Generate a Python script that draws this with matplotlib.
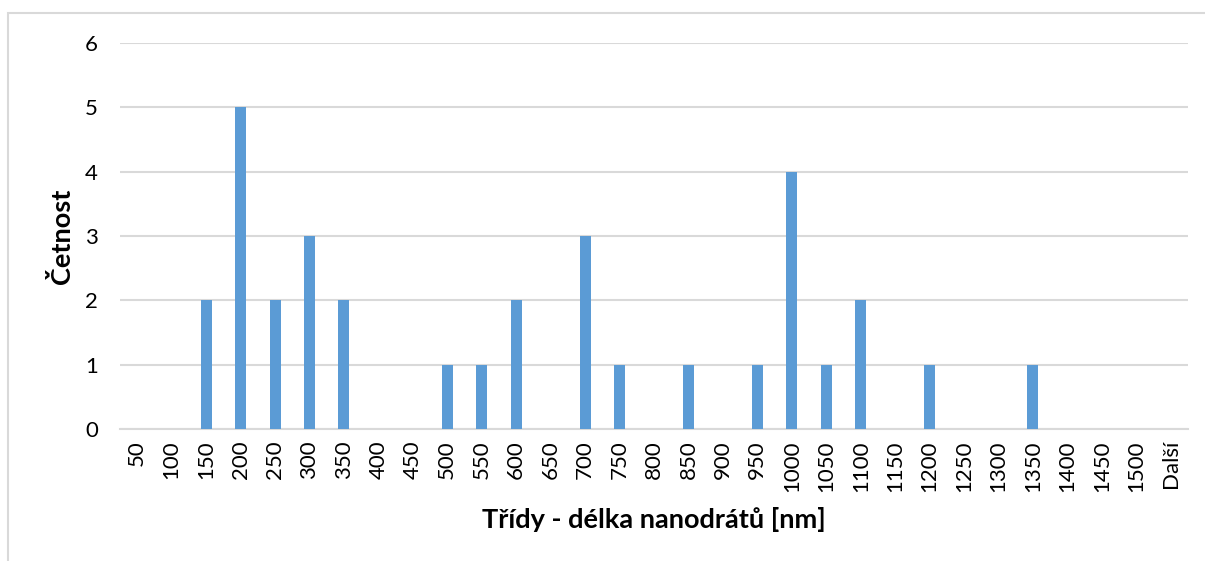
import matplotlib.pyplot as plt
from matplotlib.patches import Rectangle
import numpy as np

plt.rcParams['font.family'] = ['Lato', 'DejaVu Sans']

# class upper bounds and counts
classes = ["50", "100", "150", "200", "250", "300", "350", "400", "450", "500",
           "550", "600", "650", "700", "750", "800", "850", "900", "950", "1000",
           "1050", "1100", "1150", "1200", "1250", "1300", "1350", "1400", "1450",
           "1500", "Další"]
counts = [0, 0, 2, 5, 2, 3, 2, 0, 0, 1,
          1, 2, 0, 3, 1, 0, 1, 0, 1, 4,
          1, 2, 0, 1, 0, 0, 1, 0, 0,
          0, 0]

W, H = 1205, 561
fig = plt.figure(figsize=(W / 100, H / 100), dpi=100)
ax = fig.add_axes([120 / W, 1 - 429 / H, (1188 - 120) / W, (429 - 43) / H])

# chart frame, running off the right and bottom edges
fig.patches.append(Rectangle((8 / W, -0.1), 1.2, 1 - 13 / H + 0.1,
                             transform=fig.transFigure, fill=False,
                             edgecolor="#d9d9d9", linewidth=1.5))

x = np.arange(len(classes))
ax.bar(x, counts, width=0.32, color="#5b9bd5", zorder=3)

ax.set_xlim(-0.5, len(classes) - 0.5)
ax.set_ylim(0, 6)
ax.set_yticks(range(7))
ax.yaxis.grid(True, color="#d9d9d9", linewidth=1.5)
ax.set_axisbelow(True)

for s in ["top", "right", "left"]:
    ax.spines[s].set_visible(False)
ax.spines["bottom"].set_color("#d9d9d9")
ax.spines["bottom"].set_linewidth(1.5)

ax.set_xticks(x)
ax.set_xticklabels(classes, rotation=90, fontsize=16)
ax.tick_params(axis="y", labelsize=16, length=0, pad=16)
ax.tick_params(axis="x", length=0, pad=8)

ax.set_xlabel("Třídy - délka nanodrátů [nm]", fontsize=19.5, fontweight="bold",
              labelpad=11)
ax.set_ylabel("Četnost", fontsize=19.5, fontweight="bold", labelpad=8)

fig.savefig("out.png", dpi=100)
